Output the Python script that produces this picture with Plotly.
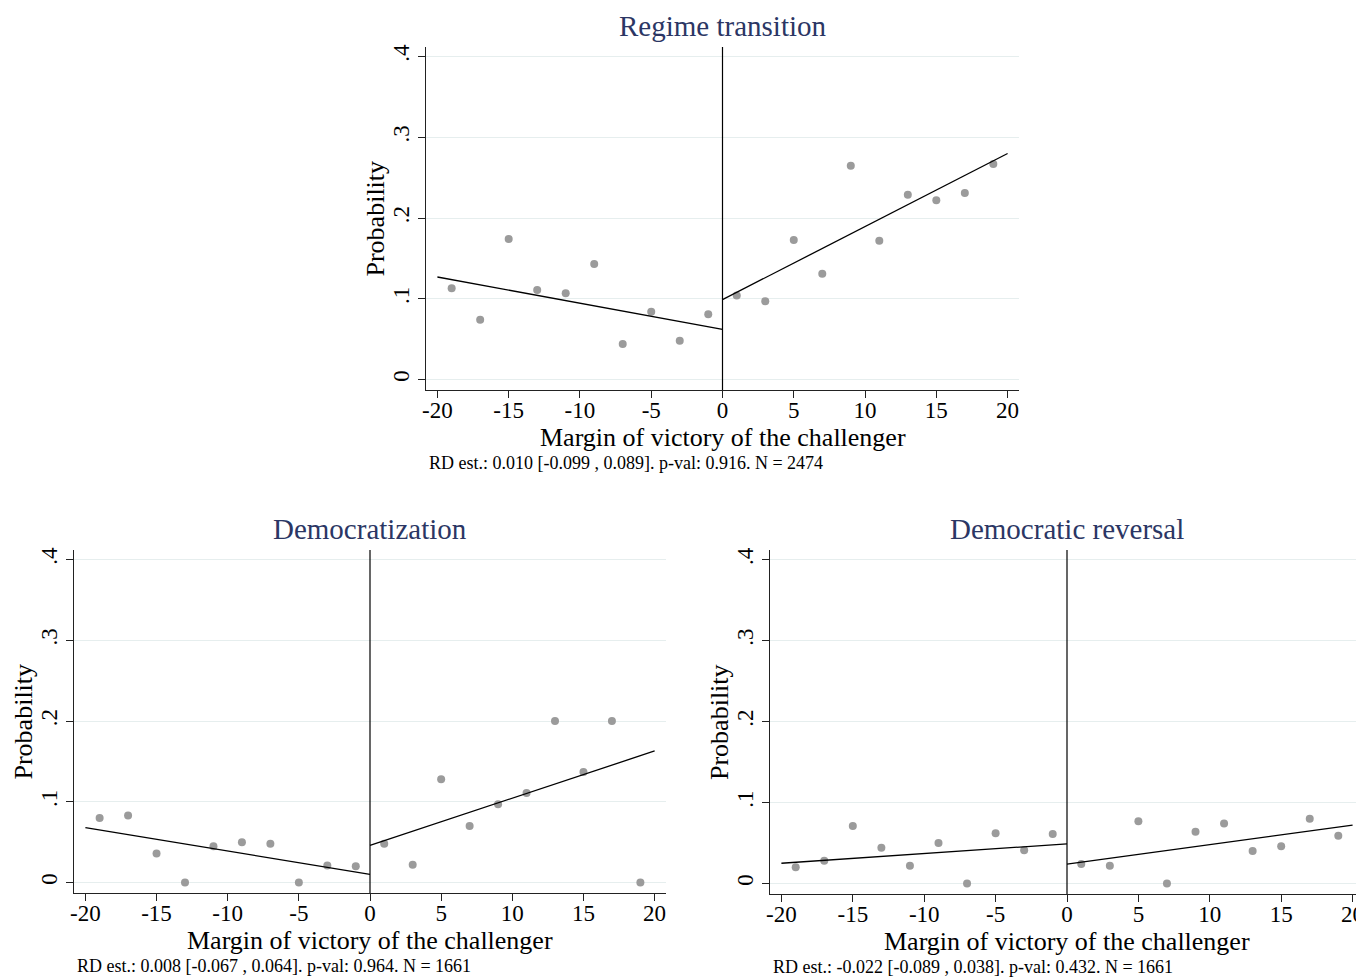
import plotly.graph_objects as go

# binned means, one point per 2-point bin of the margin
bin_x = [-19, -17, -15, -13, -11, -9, -7, -5, -3, -1, 1, 3, 5, 7, 9, 11, 13, 15, 17, 19]

regime_y = [0.113, 0.074, 0.174, 0.111, 0.107, 0.143, 0.044, 0.084, 0.048, 0.081,
            0.104, 0.097, 0.173, 0.131, 0.265, 0.172, 0.229, 0.222, 0.231, 0.267]
democ_y = [0.080, 0.083, 0.036, 0.000, 0.045, 0.050, 0.048, 0.000, 0.021, 0.020,
           0.048, 0.022, 0.128, 0.070, 0.097, 0.111, 0.200, 0.137, 0.200, 0.000]
revers_y = [0.020, 0.028, 0.071, 0.044, 0.022, 0.050, 0.000, 0.062, 0.041, 0.061,
            0.024, 0.022, 0.077, 0.000, 0.064, 0.074, 0.040, 0.046, 0.080, 0.059]

# linear fits: value at the outer end and at the cutoff
left_x = [-20, 0]
right_x = [0, 20]
regime_left = [0.127, 0.062]
regime_right = [0.099, 0.280]
democ_left = [0.068, 0.010]
democ_right = [0.046, 0.163]
revers_left = [0.025, 0.049]
revers_right = [0.024, 0.072]

titles = ['Regime transition', 'Democratization', 'Democratic reversal']
notes = ['RD est.: 0.010 [-0.099 , 0.089]. p-val: 0.916. N = 2474',
         'RD est.: 0.008 [-0.067 , 0.064]. p-val: 0.964. N = 1661',
         'RD est.: -0.022 [-0.089 , 0.038]. p-val: 0.432. N = 1661']
x_title = 'Margin of victory of the challenger'
y_title = 'Probability'
y_ticks = [0, 0.1, 0.2, 0.3, 0.4]
y_ticklabels = ['0', '.1', '.2', '.3', '.4']
x_ticks = [-20, -15, -10, -5, 0, 5, 10, 15, 20]
x_ticklabels = ['-20', '-15', '-10', '-5', '0', '5', '10', '15', '20']

# the page body has an 8px margin, so the figure is drawn 8px in from the window corner
PAD = 8
W, H = 1364 - PAD, 978 - PAD
FONT = 'Liberation Serif'
TITLE_COLOR = '#2b3664'

# panel boxes in window pixels: left, right, top, bottom
boxes = [(426, 1019, 47, 390), (74, 666, 550, 893), (770, 1364, 550, 894)]
panels = [(regime_y, regime_left, regime_right),
          (democ_y, democ_left, democ_right),
          (revers_y, revers_left, revers_right)]

fig = go.Figure()
annotations = []
shapes = []


def px(x):
    return (x - PAD) / W


def py(y):
    return 1 - (y - PAD) / H


def ann(text, x, y, size, color='black', xanchor='center', angle=0):
    annotations.append(dict(text=text, xref='paper', yref='paper', x=px(x), y=py(y),
                            xanchor=xanchor, yanchor='middle', textangle=angle, showarrow=False,
                            font=dict(family=FONT, size=size, color=color)))


for i, ((ys, lf, rf), box) in enumerate(zip(panels, boxes)):
    n = '' if i == 0 else str(i + 1)
    xa, ya = 'x' + n, 'y' + n
    l, r, t, b = box

    fig.add_trace(go.Scatter(x=bin_x, y=ys, mode='markers', xaxis=xa, yaxis=ya,
                             marker=dict(size=8, color='#9b9b9b'), showlegend=False))
    fig.add_trace(go.Scatter(x=left_x, y=lf, mode='lines', xaxis=xa, yaxis=ya,
                             line=dict(color='black', width=1.3), showlegend=False))
    fig.add_trace(go.Scatter(x=right_x, y=rf, mode='lines', xaxis=xa, yaxis=ya,
                             line=dict(color='black', width=1.3), showlegend=False))

    fig.layout['xaxis' + n] = dict(
        domain=[px(l), min(px(r), 1)], anchor=ya, range=[-20.8, 20.8], automargin=False,
        tickvals=x_ticks, ticktext=x_ticklabels, ticks='outside', ticklen=7, tickcolor='#222',
        ticklabelstandoff=-8, ticklabeloverflow='allow',
        showline=True, linecolor='#222', linewidth=1.2, showgrid=False, zeroline=False,
        tickfont=dict(family=FONT, size=23, color='black'),
    )
    fig.layout['yaxis' + n] = dict(
        domain=[py(b), py(t)], anchor=xa, range=[-0.013, 0.412], automargin=False,
        tickvals=y_ticks, ticktext=y_ticklabels, tickangle=-90,
        ticks='outside', ticklen=7, tickcolor='#222',
        showline=True, linecolor='#222', linewidth=1.2,
        showgrid=True, gridcolor='#e6eeee', gridwidth=1, zeroline=False,
        tickfont=dict(family=FONT, size=23, color='black'),
    )

    shapes.append(dict(type='line', xref=xa, yref=ya + ' domain', x0=0, x1=0, y0=0, y1=1,
                       line=dict(color='black', width=1.2)))

    ann(titles[i], (l + r) / 2, t - 21, 29, TITLE_COLOR)
    ann(x_title, (l + r) / 2, b + 47, 26)
    ann(y_title, l - 51, (t + b) / 2, 26, angle=-90)
    ann(notes[i], l + 1, b + 73, 18, xanchor='left')

fig.update_layout(
    width=W, height=H, margin=dict(l=0, r=0, t=0, b=0),
    paper_bgcolor='white', plot_bgcolor='white',
    annotations=annotations, shapes=shapes,
)

fig.write_html('out.html')
